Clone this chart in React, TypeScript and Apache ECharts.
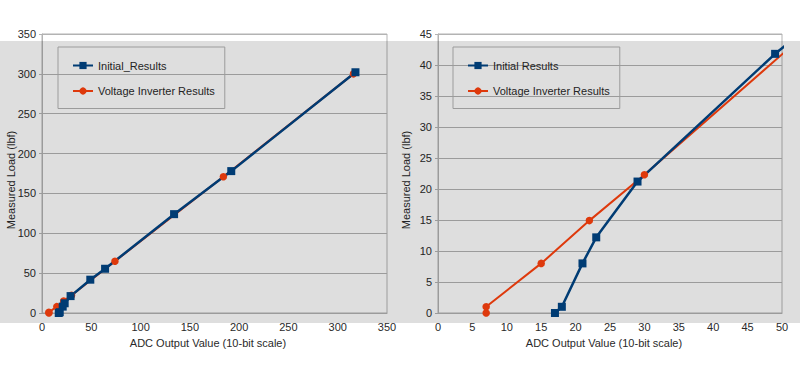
import React, { useEffect, useRef } from "react";
import * as echarts from "echarts";

// ---- data ----
const initialX = [17, 18, 21, 23, 29, 49, 64, 134, 192, 318];
const initialY = [0, 1, 8, 12.2, 21.2, 41.8, 55.5, 124, 178, 302];
const inverterX = [7, 7, 15, 22, 30, 74, 184, 316];
const inverterY = [0, 1, 8, 14.9, 22.3, 65, 171, 300];

const leftInitialName = "Initial_Results";
const rightInitialName = "Initial Results";
const inverterName = "Voltage Inverter Results";
const xAxisTitle = "ADC Output Value (10-bit scale)";
const yAxisTitle = "Measured Load (lbf)";

const BLUE = "#004586";
const RED = "#ff420e";
const GRID = "#b3b3b3";
const TEXT = "#2a2a2a";
const FONT = "'Liberation Sans', Arial, sans-serif";

const pairs = (xs: number[], ys: number[]) => xs.map((x, i) => [x, ys[i]]);

interface Cfg {
  offsetX: number;
  grid: { left: number; right: number; top: number; bottom: number };
  xMax: number;
  xInterval: number;
  yMax: number;
  yInterval: number;
  initialName: string;
  legendLeft: number;
  xTitleX: number;
  yTitleX: number;
}

function buildOption(cfg: Cfg): any {
  return {
    animation: false,
    backgroundColor: "#ffffff",
    textStyle: { fontFamily: FONT },
    grid: {
      ...cfg.grid,
      show: true,
      borderColor: GRID,
      borderWidth: 1,
      backgroundColor: "transparent",
    },
    legend: {
      orient: "vertical",
      left: cfg.legendLeft,
      top: 47,
      data: [cfg.initialName, inverterName],
      borderColor: GRID,
      borderWidth: 1,
      padding: [13, 10, 12, 14],
      itemWidth: 20,
      itemHeight: 9,
      itemGap: 14.5,
      textStyle: { fontSize: 11, color: TEXT, fontFamily: FONT },
    },
    xAxis: {
      type: "value",
      min: 0,
      max: cfg.xMax,
      interval: cfg.xInterval,
      axisLine: { show: true, lineStyle: { color: GRID } },
      axisTick: { show: false },
      splitLine: { show: false },
      axisLabel: { fontSize: 11, color: TEXT, margin: 8, fontFamily: FONT },
    },
    yAxis: {
      type: "value",
      min: 0,
      max: cfg.yMax,
      interval: cfg.yInterval,
      axisLine: { show: true, lineStyle: { color: GRID } },
      axisTick: { show: true, length: 3, lineStyle: { color: GRID } },
      splitLine: { show: true, lineStyle: { color: GRID, width: 1 } },
      axisLabel: { fontSize: 11, color: TEXT, margin: 6, fontFamily: FONT },
    },
    series: [
      {
        name: inverterName,
        type: "line",
        data: pairs(inverterX, inverterY),
        symbol: "circle",
        symbolSize: 7.5,
        lineStyle: { color: RED, width: 2 },
        itemStyle: { color: RED },
        clip: true,
      },
      {
        name: cfg.initialName,
        type: "line",
        data: pairs(initialX, initialY),
        symbol: "rect",
        symbolSize: 8,
        lineStyle: { color: BLUE, width: 2.5 },
        itemStyle: { color: BLUE },
        clip: true,
      },
    ],
    graphic: [
      {
        type: "text",
        silent: true,
        x: cfg.xTitleX,
        y: 343,
        style: {
          text: xAxisTitle,
          font: `11px ${FONT}`,
          fill: TEXT,
          align: "center",
          verticalAlign: "middle",
        },
      },
      {
        type: "text",
        silent: true,
        x: cfg.yTitleX,
        y: 180,
        rotation: Math.PI / 2,
        style: {
          text: yAxisTitle,
          font: `11px ${FONT}`,
          fill: TEXT,
          align: "center",
          verticalAlign: "middle",
        },
      },
      {
        type: "rect",
        z: 100,
        silent: true,
        shape: { x: 0, y: 41, width: 400, height: 282 },
        style: { fill: "rgba(0,0,0,0.13)" },
      },
    ],
  };
}

const leftCfg: Cfg = {
  offsetX: 0,
  grid: { left: 42, right: 13, top: 34, bottom: 52 },
  xMax: 350,
  xInterval: 50,
  yMax: 350,
  yInterval: 50,
  initialName: leftInitialName,
  legendLeft: 58,
  xTitleX: 208,
  yTitleX: 10.5,
};

const rightCfg: Cfg = {
  offsetX: 400,
  grid: { left: 38, right: 18, top: 34, bottom: 52 },
  xMax: 50,
  xInterval: 5,
  yMax: 45,
  yInterval: 5,
  initialName: rightInitialName,
  legendLeft: 53,
  xTitleX: 204,
  yTitleX: 6,
};

function Chart({ cfg }: { cfg: Cfg }) {
  const ref = useRef<HTMLDivElement>(null);
  useEffect(() => {
    if (!ref.current) return;
    const chart = echarts.init(ref.current, undefined, { renderer: "svg" });
    chart.setOption(buildOption(cfg));
    return () => chart.dispose();
  }, [cfg]);
  return (
    <div
      ref={ref}
      style={{ position: "absolute", left: cfg.offsetX, top: 0, width: 400, height: 365, overflow: "hidden" }}
    />
  );
}

export default function App() {
  return (
    <div style={{ position: "fixed", left: 0, top: 0, width: 800, height: 365, background: "#fff" }}>
      <Chart cfg={leftCfg} />
      <Chart cfg={rightCfg} />
    </div>
  );
}
